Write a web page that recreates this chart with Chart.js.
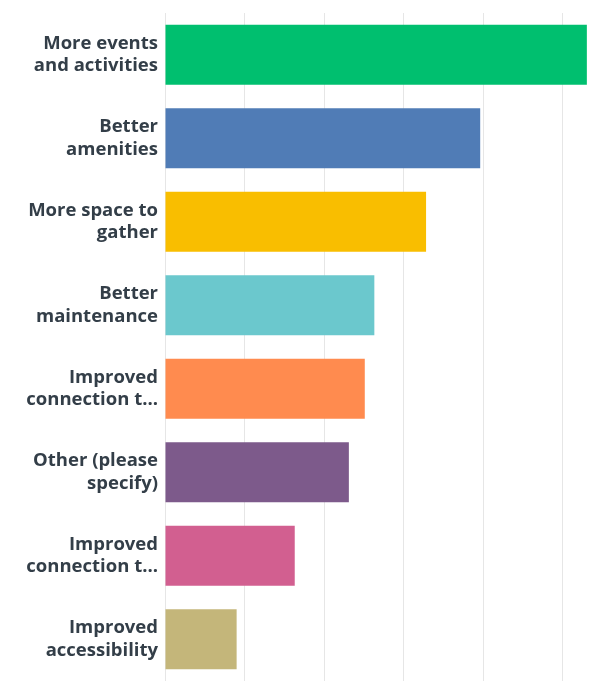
<!DOCTYPE html>
<html>
<head>
<meta charset="utf-8">
<script src="https://cdn.jsdelivr.net/npm/chart.js@4.4.1/dist/chart.umd.min.js"></script>
<style>
  html, body { margin: 0; padding: 0; background: #fff; overflow: hidden; }
  #wrap { width: 598px; height: 683px; position: relative; }
</style>
</head>
<body>
<div id="wrap"><canvas id="chart"></canvas></div>
<script>
// survey answers, top to bottom
const categories = [
    ['More events', 'and activities'],
    ['Better', 'amenities'],
    ['More space to', 'gather'],
    ['Better', 'maintenance'],
    ['Improved', 'connection t...'],
    ['Other (please', 'specify)'],
    ['Improved', 'connection t...'],
    ['Improved', 'accessibility']
];
const responses = [53.0, 39.6, 32.8, 26.3, 25.1, 23.1, 16.3, 9.0];
const barColors = ['#00bf6f', '#507cb6', '#f9be00', '#6bc8cd', '#ff8b4f', '#7d5a8b', '#d25f90', '#c4b67a'];
const gridValues = [0, 10, 20, 30, 40, 50];
const axisMax = 54.4;

const ctx = document.getElementById('chart').getContext('2d');

new Chart(ctx, {
    type: 'bar',
    data: {
        labels: categories,
        datasets: [{
            data: responses,
            backgroundColor: barColors,
            borderWidth: 0,
            categoryPercentage: 1,
            barPercentage: 0.72
        }]
    },
    options: {
        responsive: true,
        maintainAspectRatio: false,
        animation: false,
        indexAxis: 'y',
        layout: { padding: { top: 13, bottom: 2, left: 0, right: 0 } },
        plugins: {
            legend: { display: false },
            tooltip: { enabled: false }
        },
        scales: {
            x: {
                min: 0,
                max: axisMax,
                afterBuildTicks: function(scale) {
                    scale.ticks = gridValues.map(v => ({ value: v }));
                },
                ticks: { display: false },
                border: { display: false },
                grid: { drawTicks: false, lineWidth: 1, color: '#e6e6e6' }
            },
            y: {
                grid: { display: false, drawTicks: false },
                border: { display: false },
                afterFit: function(scale) {
                    scale.width = 165;
                    scale.paddingTop = 0;
                    scale.paddingBottom = 0;
                },
                ticks: {
                    padding: 7,
                    color: '#333e48',
                    font: { family: 'Open Sans', weight: 'bold', size: 18.5, lineHeight: 1.21 }
                }
            }
        }
    }
});
</script>
</body>
</html>
